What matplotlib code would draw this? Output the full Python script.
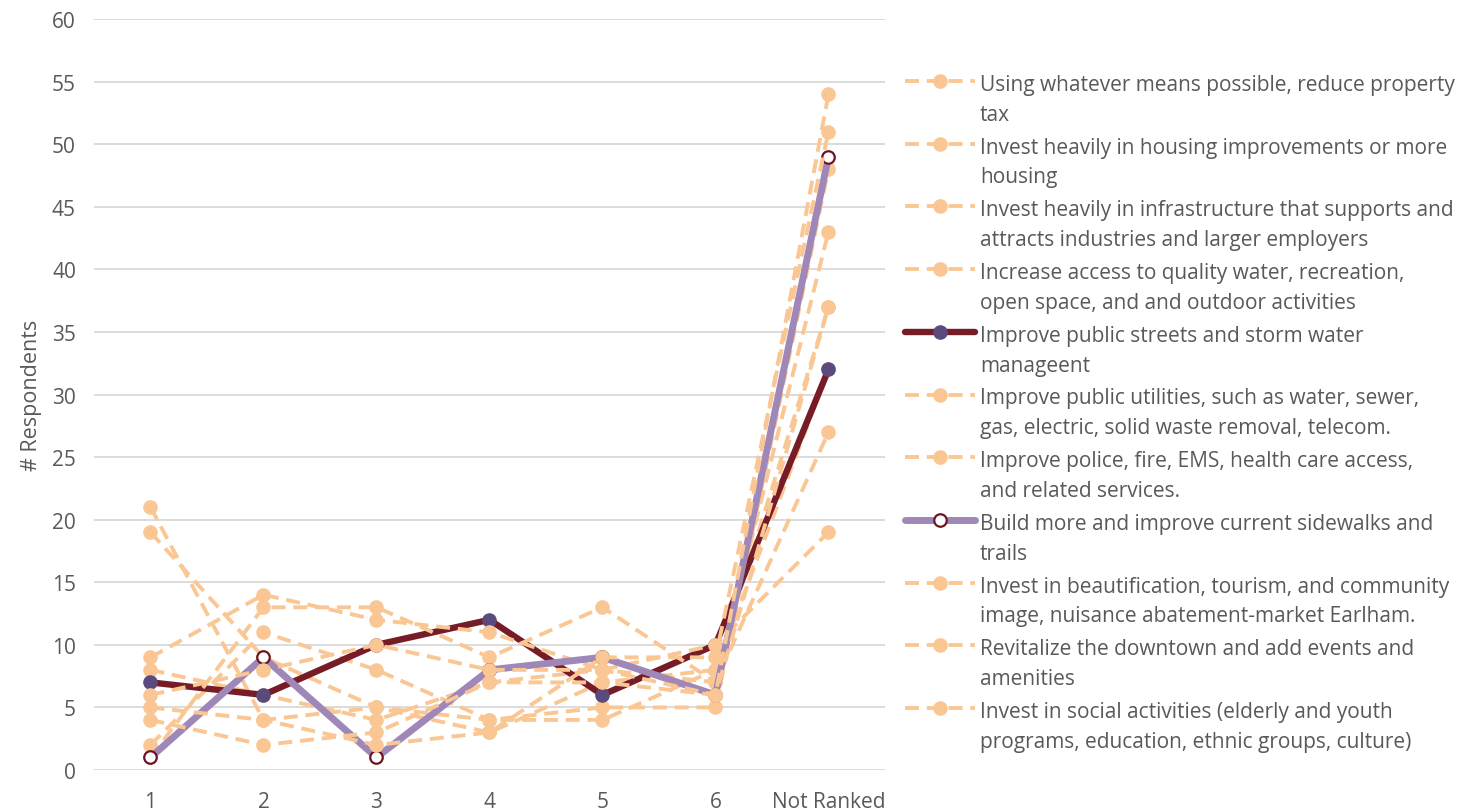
import matplotlib
matplotlib.use("Agg")
import matplotlib.pyplot as plt
from matplotlib.lines import Line2D

# ---- data -------------------------------------------------------------
categories = ["1", "2", "3", "4", "5", "6", "Not Ranked"]
y_ticks = list(range(0, 61, 5))

series_labels = [
    "Using whatever means possible, reduce property\ntax",
    "Invest heavily in housing improvements or more\nhousing",
    "Invest heavily in infrastructure that supports and\nattracts industries and larger employers",
    "Increase access to quality water, recreation,\nopen space, and and outdoor activities",
    "Improve public streets and storm water\nmanageent",
    "Improve public utilities, such as water, sewer,\ngas, electric, solid waste removal, telecom.",
    "Improve police, fire, EMS, health care access,\nand related services.",
    "Build more and improve current sidewalks and\ntrails",
    "Invest in beautification, tourism, and community\nimage, nuisance abatement-market Earlham.",
    "Revitalize the downtown and add events and\namenities",
    "Invest in social activities (elderly and youth\nprograms, education, ethnic groups, culture)",
]

property_tax = [21, 4, 5, 4, 4, 8, 37]
housing = [19, 9, 5, 3, 7, 8, 32]
infrastructure = [8, 6, 4, 7, 8, 7, 43]
water_recreation = [2, 11, 8, 4, 5, 5, 48]
streets = [7, 6, 10, 12, 6, 10, 32]
utilities = [1, 13, 13, 9, 13, 7, 27]
police = [9, 14, 12, 11, 8, 10, 19]
sidewalks = [1, 9, 1, 8, 9, 6, 49]
beautification = [6, 8, 10, 8, 8, 6, 37]
downtown = [5, 4, 2, 3, 9, 9, 51]
social = [4, 2, 3, 7, 7, 6, 54]

series_values = [property_tax, housing, infrastructure, water_recreation,
                 streets, utilities, police, sidewalks, beautification,
                 downtown, social]

# ---- styles -----------------------------------------------------------
PEACH = "#FAC794"
STREET_LINE = "#761C27"
STREET_MARK = "#5B4A7D"
WALK_LINE = "#9F88B8"
WALK_EDGE = "#6B1522"
TEXT = "#595959"
GRID = "#D9D9D9"

peach_style = dict(color=PEACH, lw=2.8, ls=(0, (3.6, 2.0)), marker="o",
                   ms=9.5, mfc=PEACH, mec=PEACH, mew=1.0, dash_capstyle="butt")
street_style = dict(color=STREET_LINE, lw=4.6, ls="-", marker="o", ms=9.5,
                    mfc=STREET_MARK, mec=STREET_MARK, mew=1.0,
                    solid_capstyle="round")
walk_style = dict(color=WALK_LINE, lw=5.0, ls="-", marker="o", ms=9,
                  mfc="white", mec=WALK_EDGE, mew=1.6, solid_capstyle="round")

styles = [peach_style] * 4 + [street_style] + [peach_style] * 2 + \
         [walk_style] + [peach_style] * 3

plt.rcParams["font.family"] = ["Open Sans", "DejaVu Sans"]
FS = 15

W, H = 1458, 812
fig = plt.figure(figsize=(W / 100, H / 100), dpi=100)
ax = fig.add_axes([94 / W, 1 - 771 / H, (885 - 94) / W, (771 - 20) / H])

x = list(range(len(categories)))
for i, (vals, st) in enumerate(zip(series_values, styles)):
    ax.plot(x, vals, zorder=3 + i, **st)

ax.set_xlim(-0.5, len(categories) - 0.5)
ax.set_ylim(0, 60)
ax.set_yticks(y_ticks)
ax.set_xticks(x)
ax.set_xticklabels(categories)
ax.yaxis.grid(True, color=GRID, lw=1.3)
ax.set_axisbelow(True)
for sp in ax.spines.values():
    sp.set_visible(False)
ax.tick_params(axis="both", length=0, labelsize=FS, labelcolor=TEXT)
ax.tick_params(axis="y", pad=13)
ax.tick_params(axis="x", pad=15)

ax.set_ylabel("# Respondents", fontsize=15.5, color=TEXT)
ax.yaxis.set_label_coords(-0.066, 0.5)

# ---- legend on the right ---------------------------------------------
y0, dy = 82, 62.7
line_keys = ("color", "lw", "ls", "dash_capstyle", "solid_capstyle")
for i, (lab, st) in enumerate(zip(series_labels, styles)):
    yc = 1 - (y0 + dy * i) / H
    ln = Line2D([905 / W, 975 / W], [yc, yc], transform=fig.transFigure,
                **{k: v for k, v in st.items() if k in line_keys})
    fig.add_artist(ln)
    mk = Line2D([940 / W], [yc], transform=fig.transFigure, ls="none",
                marker="o", ms=st["ms"], mfc=st["mfc"], mec=st["mec"],
                mew=st["mew"])
    fig.add_artist(mk)
    fig.text(980 / W, yc + 7 / H, lab, ha="left", va="top", fontsize=FS,
             color=TEXT, linespacing=1.55)

fig.savefig("out.png", dpi=100)
